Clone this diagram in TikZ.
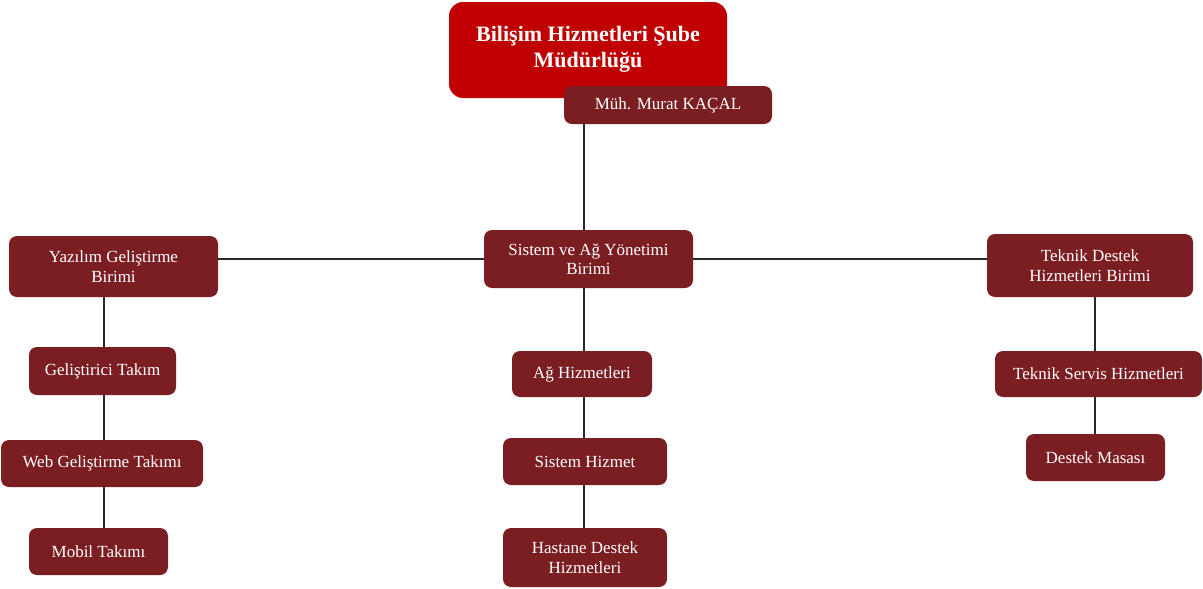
\documentclass[tikz,border=0pt]{standalone}
\usepackage{fontspec}
\setmainfont{Liberation Serif}
\definecolor{boxred}{RGB}{123,30,34}
\definecolor{titlered}{RGB}{192,0,0}
\definecolor{linegray}{RGB}{40,40,40}
\tikzset{
  unitbox/.style={draw=none, fill=boxred, rounded corners=8pt, text=white, align=center,
    inner sep=0pt, font=\fontsize{17}{19.5}\selectfont},
  titlebox/.style={draw=none, fill=titlered, rounded corners=14pt, text=white,
    inner sep=0pt, font=\fontsize{22}{25}\selectfont\bfseries},
  conn/.style={draw=linegray, line width=1.5pt}
}
\begin{document}
\begin{tikzpicture}[x=1pt,y=-1pt]
\useasboundingbox (0,0) rectangle (1203,589);
\node[titlebox, minimum width=278pt, minimum height=96pt] (title) at (588,50)
  {\raisebox{-4pt}{\begin{tabular}{@{}c@{}}Bilişim Hizmetleri Şube\\[1pt]Müdürlüğü\end{tabular}}};
\node[unitbox, minimum width=208pt, minimum height=38pt] (muh) at (668,105) {Müh. Murat KAÇAL};
\node[unitbox, minimum width=209pt, minimum height=58pt] (sis) at (588.5,259) {Sistem ve Ağ Yönetimi\\Birimi};
\node[unitbox, minimum width=209pt, minimum height=61pt] (yaz) at (113.5,266.5) {Yazılım Geliştirme\\Birimi};
\node[unitbox, minimum width=206pt, minimum height=63pt] (tek) at (1090,265.5) {Teknik Destek\\Hizmetleri Birimi};
\node[unitbox, minimum width=147pt, minimum height=48pt] (gel) at (102.5,371) {Geliştirici Takım};
\node[unitbox, minimum width=202pt, minimum height=47pt] (web) at (102,463.5) {Web Geliştirme Takımı};
\node[unitbox, minimum width=139pt, minimum height=47pt] (mob) at (98.5,551.5) {Mobil Takımı};
\node[unitbox, minimum width=140pt, minimum height=46pt] (ag) at (582,374) {Ağ Hizmetleri};
\node[unitbox, minimum width=164pt, minimum height=47pt] (sh) at (585,461.5) {Sistem Hizmet};
\node[unitbox, minimum width=164pt, minimum height=59pt] (has) at (585,557.5) {Hastane Destek\\Hizmetleri};
\node[unitbox, minimum width=207pt, minimum height=46pt] (ser) at (1098.5,374) {Teknik Servis Hizmetleri};
\node[unitbox, minimum width=139pt, minimum height=47pt] (mas) at (1095.5,457.5) {Destek Masası};
\coordinate (cx) at (584,0);
\coordinate (lx) at (104,0);
\coordinate (rx) at (1095,0);
% center column
\draw[conn] (muh.south -| cx) -- (sis.north -| cx);
\draw[conn] (sis.south -| cx) -- (ag.north -| cx);
\draw[conn] (ag.south -| cx) -- (sh.north -| cx);
\draw[conn] (sh.south -| cx) -- (has.north -| cx);
% horizontal
\draw[conn] (yaz.east |- sis.center) -- (sis.west);
\draw[conn] (sis.east) -- (tek.west |- sis.center);
% left column
\draw[conn] (yaz.south -| lx) -- (gel.north -| lx);
\draw[conn] (gel.south -| lx) -- (web.north -| lx);
\draw[conn] (web.south -| lx) -- (mob.north -| lx);
% right column
\draw[conn] (tek.south -| rx) -- (ser.north -| rx);
\draw[conn] (ser.south -| rx) -- (mas.north -| rx);
\end{tikzpicture}
\end{document}
